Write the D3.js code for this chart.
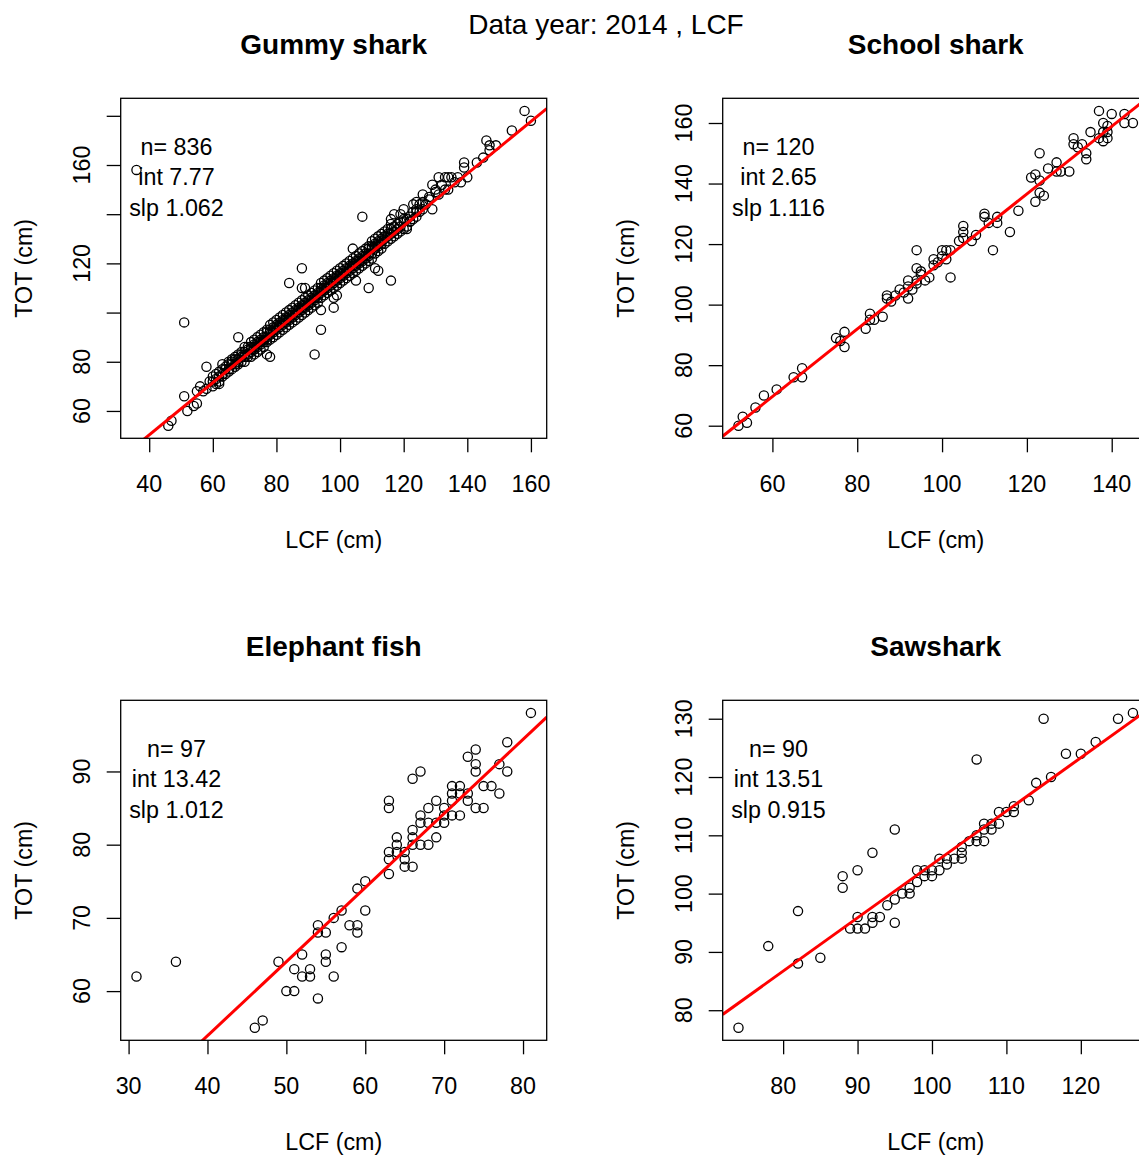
<!DOCTYPE html>
<html>
<head>
<meta charset="utf-8">
<script src="https://cdn.jsdelivr.net/npm/d3@7"></script>
<style>
  body { margin: 0; background: #fff; }
  svg { display: block; font-family: "Liberation Sans", Arial, sans-serif; }
</style>
</head>
<body>
<div id="chart"></div>
<script>
// Chart values
const mainTitle = "Data year: 2014 , LCF";
const species = ["Gummy shark", "School shark", "Elephant fish", "Sawshark"];
const counts = [836, 120, 97, 90];
const intercepts = [7.77, 2.65, 13.42, 13.51];
const slopes = [1.062, 1.116, 1.012, 0.915];

// tick positions and which of them get a label (R drops overlapping ones)
const xTicks = [[40, 60, 80, 100, 120, 140, 160], [60, 80, 100, 120, 140], [30, 40, 50, 60, 70, 80], [80, 90, 100, 110, 120]];
const yTicks = [[60, 80, 100, 120, 140, 160, 180], [60, 80, 100, 120, 140, 160], [60, 70, 80, 90], [80, 90, 100, 110, 120, 130]];
const yLabels = [[60, 80, 120, 160], [60, 80, 100, 120, 140, 160], [60, 70, 80, 90], [80, 90, 100, 110, 120, 130]];

// Gummy shark: dense band, one row per LCF value -> TOT values
const gummyBand = [
  [60, [70, 72, 74]], [61, [71, 73, 75]], [62, [72, 74, 76]], [63, [74, 75, 77, 79]], [64, [75, 77, 78]],
  [65, [76, 77, 79, 80]], [66, [77, 79, 80, 81]], [67, [78, 79, 81, 82]], [68, [79, 80, 81, 83]], [69, [80, 82, 83, 84]],
  [70, [80, 82, 83, 84, 86]], [71, [82, 83, 85, 86]], [72, [82, 84, 85, 86, 88]], [73, [83, 85, 86, 87, 89]], [74, [84, 86, 87, 88, 90]],
  [75, [85, 87, 88, 89, 91]], [76, [86, 88, 89, 90, 92]], [77, [88, 89, 90, 92, 93]], [78, [89, 91, 92, 93, 95]], [79, [90, 92, 93, 94, 96]],
  [80, [91, 93, 94, 95, 97]], [81, [92, 94, 95, 96, 98]], [82, [93, 95, 96, 97, 99]], [83, [94, 96, 97, 98, 100]], [84, [95, 97, 98, 99, 101]],
  [85, [96, 98, 99, 100, 102]], [86, [97, 99, 100, 101, 103]], [87, [98, 100, 101, 102, 104]], [88, [99, 101, 102, 103, 105]], [89, [100, 102, 103, 104, 106]],
  [90, [101, 103, 104, 105, 107]], [91, [102, 104, 105, 106, 108]], [92, [103, 105, 106, 107, 109]], [93, [104, 106, 107, 108, 110]], [94, [106, 108, 109, 110, 112]],
  [95, [107, 109, 110, 111, 113]], [96, [108, 110, 111, 112, 114]], [97, [109, 111, 112, 113, 115]], [98, [110, 112, 113, 114, 116]], [99, [111, 113, 114, 115, 117]],
  [100, [112, 114, 115, 116, 118]], [101, [113, 115, 116, 117, 119]], [102, [114, 116, 117, 118, 120]], [103, [115, 117, 118, 119, 121]], [104, [116, 118, 119, 120, 122]],
  [105, [117, 119, 120, 121, 123]], [106, [118, 120, 121, 122, 124]], [107, [119, 121, 122, 123, 125]], [108, [120, 122, 123, 124, 126]], [109, [121, 123, 124, 126, 127]],
  [110, [122, 124, 126, 127, 129]], [111, [124, 126, 127, 128, 130]], [112, [125, 127, 128, 129, 131]], [113, [126, 128, 129, 130, 132]], [114, [128, 130, 131, 133]],
  [115, [129, 131, 132, 134]], [116, [130, 132, 134, 136]], [117, [131, 133, 135]], [118, [132, 134, 136]], [119, [133, 135, 137]],
  [120, [134, 137, 138]], [121, [135, 138]], [122, [137, 139]], [123, [138, 141]], [124, [139, 142]],
  [125, [141, 144]], [126, [142, 145]], [127, [144]], [128, [146]], [130, [149]]
];
// Gummy shark: tails and stray points [LCF, TOT]
const gummyOther = [
  [36, 158], [46, 54], [47, 56], [52, 60], [51, 66], [54, 62], [55, 63], [55, 68], [56, 70], [57, 68], [58, 69], [58, 78], [59, 72], [62, 71],
  [51, 96], [68, 90], [77, 83], [78, 82], [84, 112], [88, 118], [88, 110], [89, 110], [94, 101], [94, 93], [92, 83], [98, 102], [98, 106],
  [99, 107], [104, 126], [105, 113], [107, 139], [109, 110], [111, 118], [112, 117], [116, 113], [116, 138], [117, 140], [119, 140], [120, 142],
  [121, 134], [122, 137], [123, 144], [124, 141], [124, 145], [126, 148], [128, 147], [129, 142], [129, 152], [130, 150], [131, 155], [131, 148],
  [132, 152], [133, 155], [133, 150], [134, 150], [134, 155], [135, 155], [136, 153], [137, 155], [138, 153], [139, 161], [139, 159], [140, 155],
  [143, 161], [145, 163], [146, 170], [147, 168], [147, 166], [149, 168], [154, 174], [158, 182], [160, 178]
];

const schoolPts = [
  [52, 60], [53, 63], [54, 61], [56, 66], [58, 70], [61, 72], [65, 76], [67, 79], [67, 76], [75, 89], [77, 91], [77, 86], [76, 88],
  [82, 92], [83, 97], [83, 95], [84, 95], [86, 96], [87, 103], [87, 102], [88, 101], [89, 103], [90, 105], [91, 104], [92, 102], [92, 108],
  [93, 105], [94, 112], [94, 118], [95, 110], [95, 111], [94, 108], [96, 108], [97, 109], [98, 115], [99, 114], [100, 118], [101, 118],
  [101, 115], [102, 109], [102, 118], [104, 121], [105, 126], [105, 124], [105, 122], [107, 121], [108, 123], [110, 130], [110, 129],
  [111, 127], [112, 118], [113, 129], [113, 127], [116, 124], [118, 131], [121, 142], [122, 143], [123, 141], [123, 150], [122, 134],
  [123, 137], [124, 136], [125, 145], [127, 147], [127, 144], [128, 144], [130, 144], [131, 155], [131, 153], [132, 152], [133, 153],
  [134, 150], [134, 148], [135, 157], [137, 164], [138, 160], [139, 159], [138, 157], [139, 157], [138, 154], [139, 155], [140, 163],
  [143, 163], [143, 160], [145, 160], [137, 155], [94, 107], [98, 113], [100, 116], [92, 106]
];

const elephantPts = [
  [31, 62], [36, 64], [46, 55], [47, 56], [49, 64], [50, 60], [51, 60], [51, 63], [52, 65], [52, 62], [53, 63], [53, 62], [54, 59],
  [54, 69], [54, 68], [55, 68], [55, 65], [55, 64], [56, 70], [57, 71], [56, 62], [57, 66], [58, 69], [59, 69], [59, 68], [59, 74],
  [60, 75], [60, 71], [63, 86], [63, 85], [63, 79], [63, 78], [63, 76], [64, 81], [64, 80], [64, 79], [65, 79], [65, 78], [65, 77],
  [66, 89], [67, 90], [66, 82], [66, 81], [66, 80], [66, 77], [67, 84], [67, 83], [67, 80], [68, 85], [68, 83], [68, 80], [69, 86],
  [69, 81], [69, 83], [70, 85], [70, 83], [70, 84], [71, 88], [71, 87], [71, 86], [71, 84], [72, 88], [72, 87], [72, 84], [73, 92],
  [73, 87], [73, 86], [74, 93], [74, 91], [74, 90], [74, 85], [75, 85], [75, 88], [76, 88], [77, 87], [77, 91], [78, 94], [78, 90], [81, 98]
];

const sawPts = [
  [74, 77], [78, 91], [82, 97], [82, 88], [85, 89], [88, 103], [88, 101], [89, 94], [90, 104], [90, 96], [90, 94], [91, 94], [92, 107],
  [92, 96], [92, 95], [93, 96], [94, 98], [95, 111], [95, 99], [95, 95], [96, 100], [97, 101], [97, 100], [98, 104], [98, 102], [99, 104],
  [99, 103], [100, 104], [100, 103], [101, 106], [101, 104], [102, 105], [102, 106], [103, 106], [104, 108], [104, 107], [104, 106],
  [105, 109], [106, 110], [106, 109], [107, 112], [107, 111], [107, 109], [108, 112], [108, 111], [109, 114], [109, 112], [110, 114],
  [111, 115], [111, 114], [113, 116], [114, 119], [116, 120], [106, 123], [115, 130], [118, 124], [120, 124], [122, 126], [125, 130], [127, 131]
];

const gummyPts = gummyBand.flatMap(([lcf, tots]) => tots.map(t => [lcf, t])).concat(gummyOther);
const allPts = [gummyPts, schoolPts, elephantPts, sawPts];

// Layout (R mfrow 2x2 look)
const width = 1139, height = 1158;
const boxW = 426, boxH = 340;

const svg = d3.select("#chart")
    .append("svg")
    .attr("width", width)
    .attr("height", height)
    .style("overflow", "hidden");

svg.append("text")
    .attr("x", 606)
    .attr("y", 33.5)
    .attr("text-anchor", "middle")
    .style("font-size", "28px")
    .text(mainTitle);

allPts.forEach((pts, i) => {
    const left = 120.7 + (i % 2) * 602,
        top = 98.3 + Math.floor(i / 2) * 602;
    const g = svg.append("g").attr("transform", `translate(${left},${top})`);

    // R style axis range: data range plus 4% each side
    const xe = d3.extent(pts, d => d[0]), ye = d3.extent(pts, d => d[1]);
    const xp = 0.04 * (xe[1] - xe[0]), yp = 0.04 * (ye[1] - ye[0]);
    const x = d3.scaleLinear().domain([xe[0] - xp, xe[1] + xp]).range([0, boxW]);
    const y = d3.scaleLinear().domain([ye[0] - yp, ye[1] + yp]).range([boxH, 0]);

    // ticks
    const xAxis = g.append("g")
        .attr("transform", `translate(0,${boxH})`)
        .call(d3.axisBottom(x).tickValues(xTicks[i]).tickSize(14).tickFormat(""));
    const yAxis = g.append("g")
        .call(d3.axisLeft(y).tickValues(yTicks[i]).tickSize(14).tickFormat(""));
    [xAxis, yAxis].forEach(a => {
        a.select(".domain").remove();
        a.selectAll("line").attr("stroke", "#000").attr("stroke-width", 1.3);
    });

    g.selectAll(".xlab")
        .data(xTicks[i])
        .enter().append("text")
        .attr("x", d => x(d))
        .attr("y", boxH + 53.4)
        .attr("text-anchor", "middle")
        .style("font-size", "23.3px")
        .text(d => d);

    g.selectAll(".ylab")
        .data(yLabels[i])
        .enter().append("text")
        .attr("transform", d => `translate(-30.7,${y(d)}) rotate(-90)`)
        .attr("text-anchor", "middle")
        .style("font-size", "23.3px")
        .text(d => d);

    // axis titles
    g.append("text")
        .attr("x", boxW / 2)
        .attr("y", boxH + 110)
        .attr("text-anchor", "middle")
        .style("font-size", "23.3px")
        .text("LCF (cm)");
    g.append("text")
        .attr("transform", `translate(-88.4,${boxH / 2}) rotate(-90)`)
        .attr("text-anchor", "middle")
        .style("font-size", "23.3px")
        .text("TOT (cm)");

    // panel title
    g.append("text")
        .attr("x", boxW / 2)
        .attr("y", -44)
        .attr("text-anchor", "middle")
        .style("font-size", "28px")
        .style("font-weight", "bold")
        .text(species[i]);

    // plot region clip
    g.append("clipPath").attr("id", "clip" + i)
        .append("rect").attr("width", boxW).attr("height", boxH);
    const plot = g.append("g").attr("clip-path", `url(#clip${i})`);

    plot.selectAll("circle")
        .data(pts)
        .enter().append("circle")
        .attr("cx", d => x(d[0]))
        .attr("cy", d => y(d[1]))
        .attr("r", 4.6)
        .attr("fill", "none")
        .attr("stroke", "#000")
        .attr("stroke-width", 1.3);

    // fitted line TOT = int + slp * LCF
    const [x0, x1] = x.domain();
    plot.append("line")
        .attr("x1", x(x0)).attr("y1", y(intercepts[i] + slopes[i] * x0))
        .attr("x2", x(x1)).attr("y2", y(intercepts[i] + slopes[i] * x1))
        .attr("stroke", "#ff0000")
        .attr("stroke-width", 3);

    // n / int / slp text
    const stats = [`n= ${counts[i]}`, `int ${intercepts[i]}`, `slp ${slopes[i]}`];
    g.selectAll(".stat")
        .data(stats)
        .enter().append("text")
        .attr("x", 55.8)
        .attr("y", (d, k) => 56.7 + k * 30.5)
        .attr("text-anchor", "middle")
        .style("font-size", "23.3px")
        .text(d => d);

    // box
    g.append("rect")
        .attr("width", boxW)
        .attr("height", boxH)
        .attr("fill", "none")
        .attr("stroke", "#000")
        .attr("stroke-width", 1.3);
});
</script>
</body>
</html>
